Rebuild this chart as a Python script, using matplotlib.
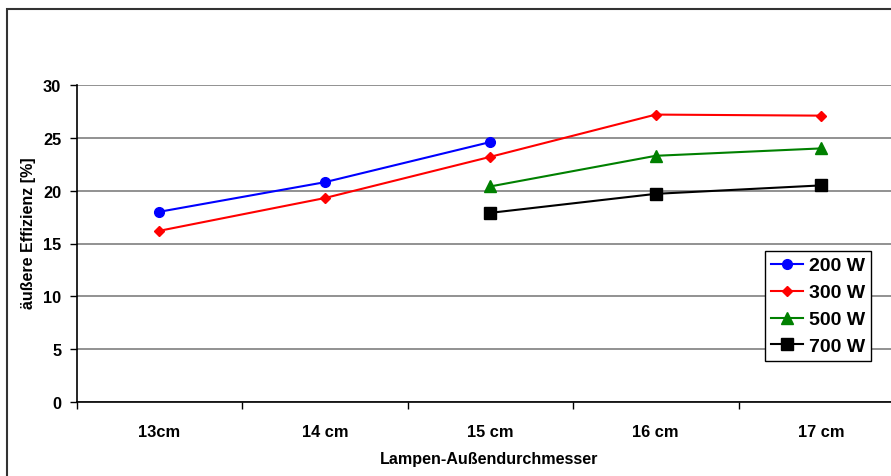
import matplotlib
matplotlib.use("Agg")
import matplotlib.pyplot as plt
from matplotlib.patches import Rectangle
from matplotlib.ticker import FixedLocator, NullFormatter

plt.rcParams['font.family'] = ['Liberation Sans', 'DejaVu Sans']
plt.rcParams['font.weight'] = 'bold'

# -------------------------
# Data
# -------------------------

diameters = ["13cm", "14 cm", "15 cm", "16 cm", "17 cm"]

eff_200w = [18.0, 20.8, 24.6, None, None]
eff_300w = [16.2, 19.3, 23.2, 27.2, 27.1]
eff_500w = [None, None, 20.4, 23.3, 24.0]
eff_700w = [None, None, 17.9, 19.7, 20.5]

series = [
    ("200 W", eff_200w, "#0000ff", "o", 7),
    ("300 W", eff_300w, "#ff0000", "D", 5.5),
    ("500 W", eff_500w, "#008000", "^", 8),
    ("700 W", eff_700w, "#000000", "s", 9),
]

# -------------------------
# Figure
# -------------------------

fig = plt.figure(figsize=(8.91, 4.77), dpi=100)
W, H = 891, 477

# outer chart border (right/bottom edges run off the canvas)
fig.patches.append(Rectangle((7 / W, -0.1), 1.2, 1 - 10 / H + 0.1,
                             transform=fig.transFigure, fill=False,
                             edgecolor="#333333", linewidth=1.5))

ax = fig.add_axes([76.5 / W, 74 / H, 827.5 / W, 317 / H])

x = list(range(len(diameters)))
for label, vals, color, marker, ms in series:
    pts = [(xi, v) for xi, v in zip(x, vals) if v is not None]
    ax.plot([p[0] for p in pts], [p[1] for p in pts], color=color, lw=1.5,
            marker=marker, markersize=ms, markerfacecolor=color,
            markeredgecolor=color, label=label)

ax.set_xlim(-0.5, len(diameters) - 0.5)
ax.set_ylim(0, 30)
ax.set_yticks(range(0, 31, 5))
ax.yaxis.grid(True, color="#7f7f7f", lw=1.2)
ax.set_axisbelow(True)

# category labels centred, tick marks between categories
ax.set_xticks(x)
ax.set_xticklabels(diameters, fontsize=11.8, fontweight="bold")
ax.xaxis.set_minor_locator(FixedLocator([i - 0.5 for i in range(len(diameters) + 1)]))
ax.xaxis.set_minor_formatter(NullFormatter())
ax.tick_params(axis="x", which="major", length=0, pad=16)
ax.tick_params(axis="x", which="minor", length=5, width=1, direction="out")
ax.tick_params(axis="y", length=5, width=1, direction="out", labelsize=11.8, pad=6)
for lbl in ax.get_yticklabels():
    lbl.set_fontweight("bold")

for side in ("top", "right"):
    ax.spines[side].set_visible(False)
ax.spines["left"].set_linewidth(1.2)
ax.spines["bottom"].set_linewidth(1.2)

ax.set_xlabel("Lampen-Außendurchmesser", fontsize=11.6, fontweight="bold")
ax.set_ylabel("äußere Effizienz [%]", fontsize=11.5, fontweight="bold")
ax.yaxis.set_label_coords(-0.0575, 0.535)
ax.xaxis.set_label_coords(0.4985, -(460 - 403) / 317)
ax.xaxis.label.set_va("center")
ax.yaxis.label.set_va("center")

leg = ax.legend(loc="upper left", bbox_to_anchor=(765 / W, 1 - 252 / H),
                bbox_transform=fig.transFigure, fontsize=14, frameon=True,
                fancybox=False, edgecolor="black", framealpha=1,
                handlelength=1.65, labelspacing=0.48, borderpad=0.3,
                handletextpad=0.3, borderaxespad=0)
leg.get_frame().set_linewidth(1.0)
for t in leg.get_texts():
    t.set_fontweight("bold")

fig.savefig("out.png", dpi=100)
